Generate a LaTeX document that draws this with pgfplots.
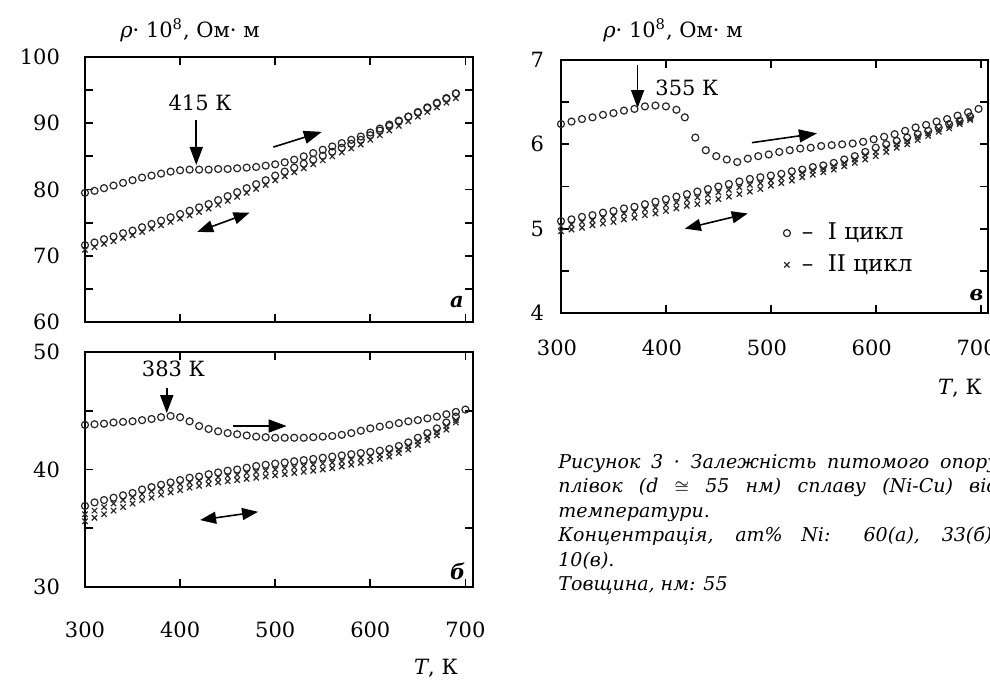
\documentclass[border=0pt]{standalone}
\usepackage{fontspec}
\setmainfont{DejaVu Serif}
\usepackage{pgfplots}
\usepackage{pgfplotstable}
\pgfplotsset{compat=1.18}
\usetikzlibrary{arrows.meta}

% panel a: cycle I heating
\pgfplotstableread{
T rho
300 79.5
310 79.8
320 80.2
330 80.6
340 81.0
350 81.4
360 81.8
370 82.1
380 82.4
390 82.7
400 82.9
410 83.0
420 83.0
430 83.0
440 83.1
450 83.1
460 83.2
470 83.3
480 83.4
490 83.6
500 83.8
510 84.1
520 84.5
530 85.0
540 85.5
550 86.0
560 86.5
570 87.0
580 87.5
590 88.0
600 88.6
610 89.2
620 89.8
630 90.4
640 91.0
650 91.6
660 92.3
670 93.0
680 93.7
690 94.5
}\heatA
% panel a: cycle I cooling (c1) and cycle II (x2)
\pgfplotstableread{
T c1 x2
300 71.6 70.9
310 72.0 71.3
320 72.5 71.8
330 72.9 72.2
340 73.4 72.7
350 73.8 73.1
360 74.3 73.6
370 74.8 74.1
380 75.3 74.6
390 75.8 75.1
400 76.3 75.6
410 76.8 76.1
420 77.3 76.6
430 77.8 77.1
440 78.4 77.7
450 79.0 78.3
460 79.6 78.9
470 80.2 79.5
480 80.8 80.1
490 81.4 80.7
500 82.1 81.4
510 82.7 82.0
520 83.3 82.6
530 83.9 83.2
540 84.5 83.8
550 85.1 84.4
560 85.7 85.0
570 86.3 85.6
580 86.9 86.2
590 87.5 86.8
600 88.2 87.5
610 88.9 88.2
620 89.6 88.9
630 90.3 89.6
640 91.0 90.3
650 91.7 91.0
660 92.4 91.7
670 93.1 92.4
680 93.8 93.1
690 94.5 93.8
}\bandA

% panel b
\pgfplotstableread{
T rho
300 43.8
310 43.85
320 43.9
330 44.0
340 44.05
350 44.1
360 44.2
370 44.3
380 44.45
390 44.55
400 44.45
410 44.1
420 43.7
430 43.45
440 43.25
450 43.1
460 43.0
470 42.9
480 42.8
490 42.75
500 42.7
510 42.7
520 42.7
530 42.7
540 42.75
550 42.8
560 42.85
570 42.95
580 43.1
590 43.3
600 43.5
610 43.65
620 43.8
630 43.95
640 44.1
650 44.2
660 44.35
670 44.5
680 44.7
690 44.9
700 45.1
}\heatB
\pgfplotstableread{
T c1 x2 x3
300 36.9 35.6 36.2
310 37.2 35.9 36.5
320 37.4 36.2 36.8
330 37.6 36.5 37.1
340 37.8 36.8 37.4
350 38.0 37.1 37.65
360 38.3 37.4 37.9
370 38.5 37.6 38.15
380 38.7 37.85 38.35
390 38.9 38.05 38.55
400 39.1 38.25 38.75
410 39.3 38.45 38.9
420 39.4 38.6 39.05
430 39.6 38.75 39.2
440 39.75 38.9 39.35
450 39.9 39.0 39.45
460 40.0 39.1 39.55
470 40.15 39.2 39.7
480 40.3 39.3 39.8
490 40.4 39.4 39.9
500 40.5 39.5 40.0
510 40.6 39.6 40.1
520 40.7 39.7 40.2
530 40.8 39.8 40.3
540 40.9 39.9 40.4
550 41.0 40.0 40.5
560 41.1 40.1 40.6
570 41.2 40.25 40.7
580 41.3 40.4 40.85
590 41.4 40.55 41.0
600 41.5 40.7 41.1
610 41.6 40.9 41.25
620 41.75 41.1 41.45
630 42.0 41.4 41.7
640 42.3 41.7 42.0
650 42.7 42.1 42.4
660 43.1 42.5 42.8
670 43.5 42.9 43.2
680 44.0 43.4 43.7
690 44.5 44.0 44.2
}\bandB

% panel v
\pgfplotstableread{
T rho
300 6.24
310 6.27
320 6.30
330 6.32
340 6.35
350 6.37
360 6.40
370 6.42
380 6.45
390 6.46
400 6.45
410 6.41
418 6.32
428 6.08
438 5.93
448 5.86
458 5.82
468 5.79
478 5.83
488 5.86
498 5.88
508 5.91
518 5.93
528 5.95
538 5.96
548 5.98
558 5.99
568 6.00
578 6.01
588 6.03
598 6.06
608 6.09
618 6.12
628 6.16
638 6.20
648 6.23
658 6.27
668 6.30
678 6.34
688 6.38
698 6.42
}\heatC
\pgfplotstableread{
T c1 x2 x3
300 5.09 4.97 5.03
310 5.11 4.99 5.05
320 5.14 5.01 5.08
330 5.16 5.04 5.10
340 5.19 5.06 5.13
350 5.21 5.08 5.15
360 5.24 5.11 5.18
370 5.26 5.13 5.20
380 5.29 5.16 5.23
390 5.32 5.18 5.25
400 5.35 5.21 5.28
410 5.38 5.24 5.31
420 5.41 5.27 5.34
430 5.44 5.29 5.37
440 5.47 5.32 5.40
450 5.50 5.35 5.43
460 5.53 5.38 5.46
470 5.56 5.41 5.49
480 5.59 5.44 5.52
490 5.61 5.47 5.54
500 5.63 5.51 5.57
510 5.65 5.54 5.60
520 5.68 5.57 5.63
530 5.70 5.61 5.66
540 5.73 5.64 5.69
550 5.75 5.67 5.71
560 5.78 5.70 5.74
570 5.82 5.74 5.78
580 5.86 5.78 5.82
590 5.91 5.82 5.87
600 5.96 5.86 5.91
610 6.00 5.91 5.96
620 6.04 5.96 6.00
630 6.08 6.00 6.04
640 6.12 6.05 6.09
650 6.16 6.10 6.13
660 6.20 6.15 6.18
670 6.24 6.19 6.22
680 6.28 6.24 6.26
690 6.33 6.29 6.31
}\bandC

\pgfplotsset{
  panel/.style={
    scale only axis,
    anchor=south west,
    xtick={300,400,500,600,700},
    minor y tick num=1,
    tick align=inside,
    axis line style={line width=1.2pt},
    major tick length=4pt, minor tick length=4pt,
    major tick style={black, line width=0.9pt},
    minor tick style={black, line width=0.9pt},
    tick label style={font=\fontsize{10.5}{12}\selectfont},
    /pgf/number format/assume math mode=true,
    clip=false,
  },
  circ/.style={only marks, mark=o, mark size=1.75pt, black!85, mark options={line width=0.6pt}},
  crs/.style={only marks, mark=x, mark size=1.9pt, black!85, mark options={line width=0.6pt}},
}
\tikzset{
  arr/.style={line width=0.8pt, -{Triangle[length=9pt,width=6.5pt]}},
  darr/.style={line width=0.8pt, {Triangle[length=8pt,width=6pt]}-{Triangle[length=8pt,width=6pt]}},
}
\newcommand{\lab}{\fontsize{10.5}{12}\selectfont}
\newcommand{\jl}[1]{\makebox[220pt][s]{#1}}

\begin{document}
\begin{tikzpicture}
\useasboundingbox (0,0) rectangle (495pt,346pt);
\clip (0,0) rectangle (495pt,346pt);

% panel a
\begin{axis}[panel, at={(42.5pt,185pt)}, width=194pt, height=132.5pt,
  xmin=300, xmax=708, ymin=60, ymax=100, ytick={60,70,...,100},
  xticklabels={}, yticklabel style={xshift=-9pt}]
\addplot[circ] table[x=T, y=rho] {\heatA};
\addplot[circ] table[x=T, y=c1] {\bandA};
\addplot[crs] table[x=T, y=x2] {\bandA};
\node[font=\lab] at (axis cs:421,93.1) {415 К};
\draw[arr] (axis cs:417,90.5) -- (axis cs:417,83.7);
\draw[arr] (axis cs:498,86.4) -- (axis cs:549,88.7);
\draw[darr] (axis cs:418,73.6) -- (axis cs:473,76.5);
\node[font=\lab\bfseries\itshape] at (axis cs:691,63) {а};
\end{axis}

% panel b
\begin{axis}[panel, at={(42.5pt,52.5pt)}, width=194pt, height=117.5pt,
  xmin=300, xmax=708, ymin=30, ymax=50, ytick={30,40,50},
  xticklabel style={yshift=-14pt}, yticklabel style={xshift=-9pt}]
\addplot[circ] table[x=T, y=rho] {\heatB};
\addplot[circ] table[x=T, y=c1] {\bandB};
\addplot[crs] table[x=T, y=x3] {\bandB};
\addplot[crs] table[x=T, y=x2] {\bandB};
\node[font=\lab] at (axis cs:393,48.6) {383 К};
\draw[arr] (axis cs:386,46.9) -- (axis cs:386,44.8);
\draw[arr] (axis cs:456,43.7) -- (axis cs:512,43.7);
\draw[darr] (axis cs:421,35.7) -- (axis cs:482,36.4);
\node[font=\lab\bfseries\itshape] at (axis cs:692,31.3) {б};
\end{axis}

% panel v
\begin{axis}[panel, at={(280.5pt,189.5pt)}, width=213.5pt, height=126.5pt,
  xmin=300, xmax=707, ymin=4, ymax=7, ytick={4,5,6,7},
  xticklabel style={yshift=-10pt, xshift=-2pt}, yticklabel style={xshift=-5pt},
  legend style={draw=none, fill=none, at={(0.52,0.253)}, anchor=west,
    font=\fontsize{11.5}{13}\selectfont, row sep=2pt, inner sep=0pt},
  legend cell align=left]
\addplot[circ] table[x=T, y=rho] {\heatC};
\addplot[crs] table[x=T, y=x2] {\bandC};
\addplot[circ, forget plot] table[x=T, y=c1] {\bandC};
\addplot[crs, forget plot] table[x=T, y=x3] {\bandC};
\legend{\ -- \ I цикл, \ -- \ II цикл}
\node[font=\lab] at (axis cs:420,6.67) {355 К};
\draw[arr] (axis cs:373,6.94) -- (axis cs:373,6.43);
\draw[arr] (axis cs:482,6.02) -- (axis cs:544,6.13);
\draw[darr] (axis cs:418,5.0) -- (axis cs:478,5.18);
\node[font=\lab\bfseries\itshape] at (axis cs:696,4.21) {в};
\end{axis}

% axis titles
\node[font=\lab] at (95pt,331pt) {\textit{ρ}· 10\textsuperscript{8}, Ом· м};
\node[font=\lab] at (336.5pt,331pt) {\textit{ρ}· 10\textsuperscript{8}, Ом· м};
\node[font=\lab] at (218pt,12pt) {\textit{T}, К};
\node[font=\lab] at (480pt,152pt) {\textit{T}, К};

% caption (justified lines run past the page edge, as in the scan)
\node[anchor=north west, align=left, inner sep=0pt,
  font=\itshape\fontsize{9.5}{12.2}\selectfont] at (279pt,119pt)
  {\jl{Рисунок 3 · Залежність питомого опору}\\
   \jl{плівок (d \(\cong\) 55 нм) сплаву (Ni-Cu) від}\\
   температури.\\
   \jl{Концентрація, ат\% Ni: 60(а), 33(б),}\\
   10(в).\\
   Товщина, нм: 55};
\end{tikzpicture}
\end{document}
